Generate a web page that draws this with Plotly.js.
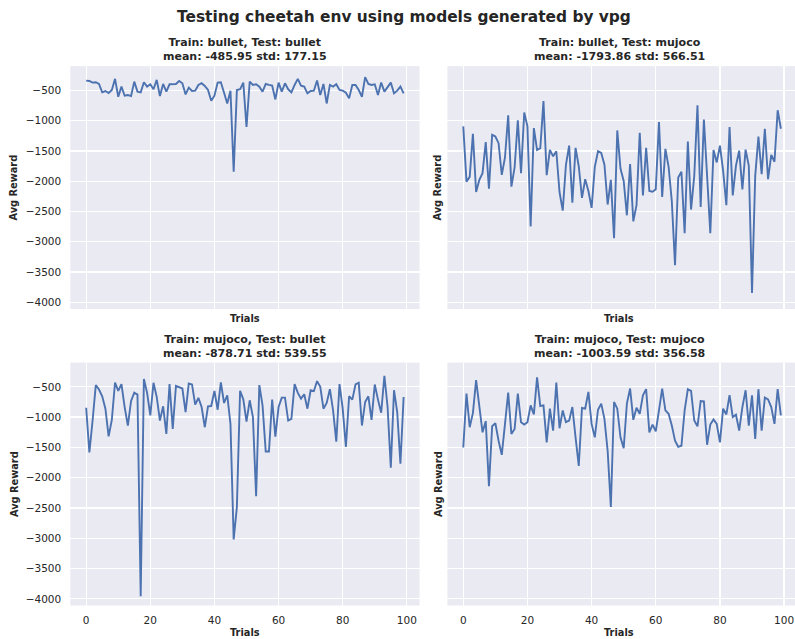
<!DOCTYPE html>
<html>
<head>
<meta charset="utf-8">
<script src="https://cdn.plot.ly/plotly-3.0.1.min.js"></script>
<style>html,body{margin:0;padding:0;background:#fff;}#chart{width:795px;height:639px;}</style>
</head>
<body>
<div id="chart"></div>
<script>
// ---- data ----
const trials = Array.from({length: 100}, (_, i) => i);

const bulletBullet = [
  -339, -345, -372, -367, -395, -533, -511, -545, -495, -311,
  -606, -439, -589, -578, -595, -356, -522, -533, -367, -439,
  -400, -483, -328, -595, -395, -522, -400, -395, -395, -345,
  -383, -567, -456, -511, -506, -411, -383, -428, -495, -672,
  -589, -372, -367, -539, -717, -506, -1845, -495, -483, -372,
  -1106, -356, -411, -400, -439, -522, -395, -411, -422, -650,
  -372, -522, -383, -483, -533, -411, -311, -422, -439, -550,
  -511, -506, -339, -578, -395, -717, -411, -439, -400, -495,
  -506, -539, -633, -411, -411, -495, -606, -283, -395, -411,
  -400, -578, -372, -522, -456, -372, -550, -506, -439, -550
];

const bulletMujoco = [
  -1095, -2007, -1929, -1217, -2179, -1979, -1868, -1356, -2124, -1234,
  -1262, -1373, -1896, -1606, -911, -2090, -1773, -995, -1868, -867,
  -1095, -2746, -1123, -1484, -1456, -678, -1901, -1484, -1590, -1506,
  -2179, -2485, -1729, -1412, -2357, -1451, -1757, -2274, -1968, -2162,
  -2440, -1762, -1506, -1534, -1729, -2385, -1979, -2941, -1162, -1790,
  -1996, -2563, -1718, -2663, -2396, -1201, -2235, -1451, -2162, -2174,
  -2135, -1023, -2262, -1467, -1762, -2329, -3386, -1940, -1845, -2857,
  -1345, -2468, -1912, -745, -2424, -984, -1912, -2857, -1484, -1690,
  -1412, -1829, -2396, -1106, -2235, -1745, -1495, -2135, -1478, -1745,
  -3847, -1912, -1262, -1884, -1134, -1968, -1567, -1679, -828, -1134
];

const mujocoBullet = [
  -845, -1584, -1056, -472, -544, -656, -861, -1317, -1045, -428,
  -567, -456, -834, -1139, -733, -595, -628, -3958, -372, -600,
  -973, -433, -667, -1056, -822, -1278, -456, -1195, -483, -511,
  -528, -917, -444, -461, -795, -683, -834, -1167, -822, -817,
  -567, -878, -428, -767, -639, -1112, -3019, -2485, -567, -706,
  -1073, -722, -1000, -2307, -472, -806, -1567, -1567, -711, -1323,
  -834, -678, -678, -1056, -1028, -456, -600, -695, -622, -861,
  -556, -572, -406, -500, -861, -767, -539, -889, -1406, -456,
  -861, -1490, -656, -711, -461, -433, -1139, -750, -656, -1045,
  -461, -711, -928, -317, -834, -1834, -556, -917, -1767, -667
];

const mujocoMujoco = [
  -1501, -611, -1167, -934, -389, -778, -1251, -1067, -2140, -1151,
  -1101, -1390, -1623, -1112, -595, -1278, -1195, -611, -1084, -1123,
  -1084, -806, -956, -344, -817, -806, -1417, -861, -1223, -428,
  -1184, -889, -1084, -1056, -834, -1334, -1807, -850, -861, -583,
  -1112, -1334, -878, -778, -1028, -1556, -2485, -750, -861, -1334,
  -1512, -778, -528, -1045, -845, -945, -639, -539, -1251, -1123,
  -1234, -889, -528, -889, -945, -1139, -1390, -1490, -1473, -889,
  -539, -567, -1056, -1151, -733, -739, -1456, -1123, -1039, -1112,
  -1417, -861, -956, -639, -1000, -961, -1223, -834, -556, -1139,
  -639, -1362, -539, -1223, -678, -706, -834, -1112, -539, -973
];

const panelTitles = [
  ["Train: bullet, Test: bullet", "mean: -485.95 std: 177.15"],
  ["Train: bullet, Test: mujoco", "mean: -1793.86 std: 566.51"],
  ["Train: mujoco, Test: bullet", "mean: -878.71 std: 539.55"],
  ["Train: mujoco, Test: mujoco", "mean: -1003.59 std: 356.58"]
];
const mainTitle = "Testing cheetah env using models generated by vpg";
const xLabel = "Trials";
const yLabel = "Avg Reward";
const xTicks = [0, 20, 40, 60, 80, 100];
const yTicks = [-4000, -3500, -3000, -2500, -2000, -1500, -1000, -500];

// ---- layout ----
const W = 795, H = 639;
const FONT = "DejaVu Sans, Liberation Sans, sans-serif";
const TXT = "#262626";
const LINE = "#4C72B0";
const BG = "#EAEAF2";

const colPx = [[70.3, 419.5], [447.4, 795]];
const rowPx = [[66.1, 309], [362.6, 605.5]];
const xRanges = [[-4.95, 103.95], [-4.95, 103.4]];
const yRange = [-4110, -100];

const series = [bulletBullet, bulletMujoco, mujocoBullet, mujocoMujoco];
const traces = [];
const layout = {
  width: W, height: H,
  margin: {l: 0, r: 0, t: 0, b: 0, pad: 0},
  paper_bgcolor: "#ffffff",
  plot_bgcolor: BG,
  showlegend: false,
  font: {family: FONT, color: TXT, size: 10.5},
  annotations: []
};

function px2x(p) { return p / W; }
function px2y(p) { return 1 - p / H; }

for (let k = 0; k < 4; k++) {
  const r = Math.floor(k / 2), c = k % 2;
  const n = k + 1;
  const xa = "xaxis" + (n === 1 ? "" : n), ya = "yaxis" + (n === 1 ? "" : n);
  const xs = "x" + (n === 1 ? "" : n), ys = "y" + (n === 1 ? "" : n);
  traces.push({
    x: trials, y: series[k], type: "scatter", mode: "lines",
    line: {color: LINE, width: 1.9},
    xaxis: xs, yaxis: ys, hoverinfo: "skip"
  });
  layout[xa] = {
    domain: [px2x(colPx[c][0]), px2x(colPx[c][1])],
    anchor: ys, range: xRanges[c],
    tickvals: xTicks, ticktext: xTicks.map(String),
    showticklabels: r === 1,
    ticks: "outside", ticklen: 5, tickcolor: "rgba(0,0,0,0)",
    showgrid: true, gridcolor: "#ffffff", gridwidth: 1.3,
    zeroline: false, showline: false,
    tickfont: {family: FONT, size: 10.5, color: TXT}
  };
  layout[ya] = {
    domain: [px2y(rowPx[r][1]), px2y(rowPx[r][0])],
    anchor: xs, range: yRange,
    tickvals: yTicks,
    showticklabels: c === 0,
    ticks: "outside", ticklen: 6, tickcolor: "rgba(0,0,0,0)",
    showgrid: true, gridcolor: "#ffffff", gridwidth: 1.3,
    zeroline: false, showline: false,
    tickfont: {family: FONT, size: 10.5, color: TXT}
  };
  const cx = c === 0 ? 245 : 619;
  // subplot titles
  layout.annotations.push({
    text: "<b>" + panelTitles[k][0] + "</b><br><b>" + panelTitles[k][1] + "</b>",
    xref: "paper", yref: "paper", x: px2x(cx), y: px2y(r === 0 ? 49.8 : 346.6),
    xanchor: "center", yanchor: "middle", showarrow: false,
    font: {family: FONT, size: 11, color: TXT}
  });
  // x label
  layout.annotations.push({
    text: "<b>" + xLabel + "</b>",
    xref: "paper", yref: "paper", x: px2x(cx), y: px2y(r === 0 ? 318 : 632),
    xanchor: "center", yanchor: "middle", showarrow: false,
    font: {family: FONT, size: 9.8, color: TXT}
  });
  // y label
  layout.annotations.push({
    text: "<b>" + yLabel + "</b>", textangle: -90,
    xref: "paper", yref: "paper", x: px2x(c === 0 ? 14 : 438),
    y: px2y((rowPx[r][0] + rowPx[r][1]) / 2),
    xanchor: "center", yanchor: "middle", showarrow: false,
    font: {family: FONT, size: 9.8, color: TXT}
  });
}

layout.annotations.push({
  text: "<b>" + mainTitle + "</b>",
  xref: "paper", yref: "paper", x: px2x(404), y: px2y(17),
  xanchor: "center", yanchor: "middle", showarrow: false,
  font: {family: FONT, size: 15.4, color: TXT}
});

Plotly.newPlot("chart", traces, layout, {staticPlot: true, displayModeBar: false});
</script>
</body>
</html>
